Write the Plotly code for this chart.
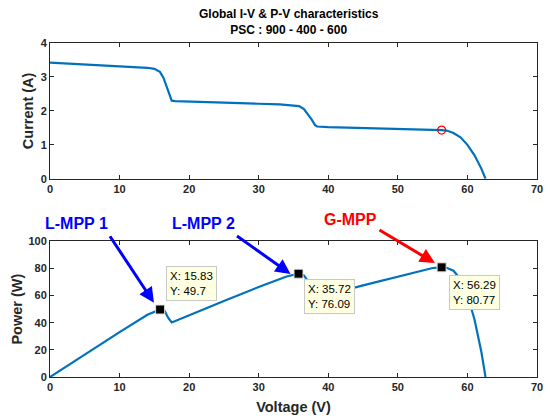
import plotly.graph_objects as go
from plotly.subplots import make_subplots

# I-V curve
v_iv = [0, 2, 5, 8, 10, 12, 14, 15, 15.8, 16.3, 16.8, 17.2, 17.5, 18, 20, 25, 30, 33, 35, 35.8, 36.5, 37.1, 37.6, 38.1, 38.4, 40, 45, 50, 55, 56.29, 57, 58, 59, 60, 61, 62, 62.6]
i_iv = [3.42, 3.40, 3.37, 3.34, 3.31, 3.29, 3.27, 3.24, 3.15, 2.98, 2.7, 2.45, 2.3, 2.29, 2.28, 2.24, 2.21, 2.19, 2.17, 2.14, 2.05, 1.9, 1.75, 1.58, 1.54, 1.52, 1.50, 1.48, 1.46, 1.435, 1.42, 1.35, 1.22, 1.0, 0.7, 0.3, 0.0]

# P-V curve
v_pv = [0, 5, 10, 14, 15.83, 16.5, 17.0, 17.5, 20, 25, 30, 34, 35.72, 36.5, 37.1, 37.6, 38.1, 38.4, 40, 45, 50, 55, 56.29, 57, 58, 59, 60, 61, 62, 62.6]
p_pv = [0, 16.8, 33.1, 45.8, 49.7, 48.5, 43.5, 40.2, 45.6, 56.0, 66.3, 74.0, 76.09, 74.8, 70.5, 65.8, 60.2, 59.1, 60.8, 67.5, 74.0, 80.3, 80.77, 80.5, 78.3, 72.0, 60.0, 42.7, 18.6, 0]

# Maximum power points (datatips)
mpp_v = [15.83, 35.72, 56.29]
mpp_p = [49.7, 76.09, 80.77]
gmpp_i = [1.435]
gmpp_v = [56.29]

labels = ["L-MPP 1", "L-MPP 2", "G-MPP"]
label_colors = ["#0000FF", "#0000FF", "#FF0000"]
label_x = [3.77, 22.05, 43.2]
label_y = [0.46, 0.46, 0.472]   # paper fraction (above the lower axes)
arrow_x = [14.94, 34.57, 55.33]
arrow_y = [54.7, 75.9, 83.9]
arrow_ax = [-45, -55, -57]
arrow_ay = [-68, -39, -34]
tip_x = [16.64, 36.56, 57.33]
tip_y = [81.75, 72.3, 75.2]

blue = "#0072BD"
axc = "#262626"
font = "Liberation Sans, Arial, sans-serif"

fig = make_subplots(rows=2, cols=1, vertical_spacing=0.0)
fig.add_trace(go.Scatter(x=v_iv, y=i_iv, mode="lines", line=dict(color=blue, width=2.2), hoverinfo="skip"), row=1, col=1)
fig.add_trace(go.Scatter(x=gmpp_v, y=gmpp_i, mode="markers",
                         marker=dict(symbol="circle-open", color="#FF0000", size=8, line=dict(width=1.2))), row=1, col=1)
fig.add_trace(go.Scatter(x=v_pv, y=p_pv, mode="lines", line=dict(color=blue, width=2.2), hoverinfo="skip"), row=2, col=1)
fig.add_trace(go.Scatter(x=mpp_v, y=mpp_p, mode="markers",
                         marker=dict(symbol="square", color="black", size=9, line=dict(color="#E0E0E0", width=1))), row=2, col=1)

axis_common = dict(range=[0, 70], dtick=10, ticks="inside", ticklen=4, tickcolor=axc, showline=True,
                   linecolor=axc, linewidth=1, mirror="ticks", showgrid=False, zeroline=False,
                   tickfont=dict(family=font, size=11, color=axc, weight="bold"))
fig.update_xaxes(**axis_common)
fig.update_yaxes(**{k: v for k, v in axis_common.items() if k not in ("range", "dtick")})

fig.update_layout(
    width=550, height=419, showlegend=False,
    plot_bgcolor="white", paper_bgcolor="white",
    margin=dict(l=50, r=7, t=43, b=39),
    xaxis=dict(domain=[0, 1]),
    yaxis=dict(domain=[0.5935, 1], range=[0, 4], dtick=1,
               title=dict(text="Current (A)", font=dict(family=font, size=14.5, color=axc, weight="bold"), standoff=3)),
    xaxis2=dict(domain=[0, 1],
                title=dict(text="Voltage (V)", font=dict(family=font, size=14.5, color=axc, weight="bold"), standoff=9)),
    yaxis2=dict(domain=[0, 0.4065], range=[0, 100], dtick=20,
                title=dict(text="Power (W)", font=dict(family=font, size=14.5, color=axc, weight="bold"), standoff=2)),
)

fig.add_annotation(xref="paper", yref="paper", x=0.49, y=1.0, yshift=4, yanchor="bottom", showarrow=False,
                   text="Global I-V & P-V characteristics<br>PSC : 900 - 400 - 600",
                   font=dict(family=font, size=12, color="#000000", weight="bold"))

for i in range(3):
    fig.add_annotation(xref="x2", yref="paper", x=label_x[i], y=label_y[i], text=labels[i], showarrow=False,
                       font=dict(family=font, size=16, color=label_colors[i], weight="bold"))
    fig.add_annotation(xref="x2", yref="y2", x=arrow_x[i], y=arrow_y[i], ax=arrow_ax[i], ay=arrow_ay[i],
                       text="", showarrow=True, arrowhead=2, arrowsize=1, arrowwidth=3,
                       arrowcolor=label_colors[i])
    fig.add_annotation(xref="x2", yref="y2", x=tip_x[i], y=tip_y[i], xanchor="left", yanchor="top",
                       text="X: %s<br>Y: %s" % (mpp_v[i], mpp_p[i]), showarrow=False, align="left",
                       bgcolor="#FFFFE1", bordercolor="#C8C8C8", borderwidth=1, borderpad=3,
                       font=dict(family=font, size=11.5, color="#000000"))

fig.write_html("out.html")
